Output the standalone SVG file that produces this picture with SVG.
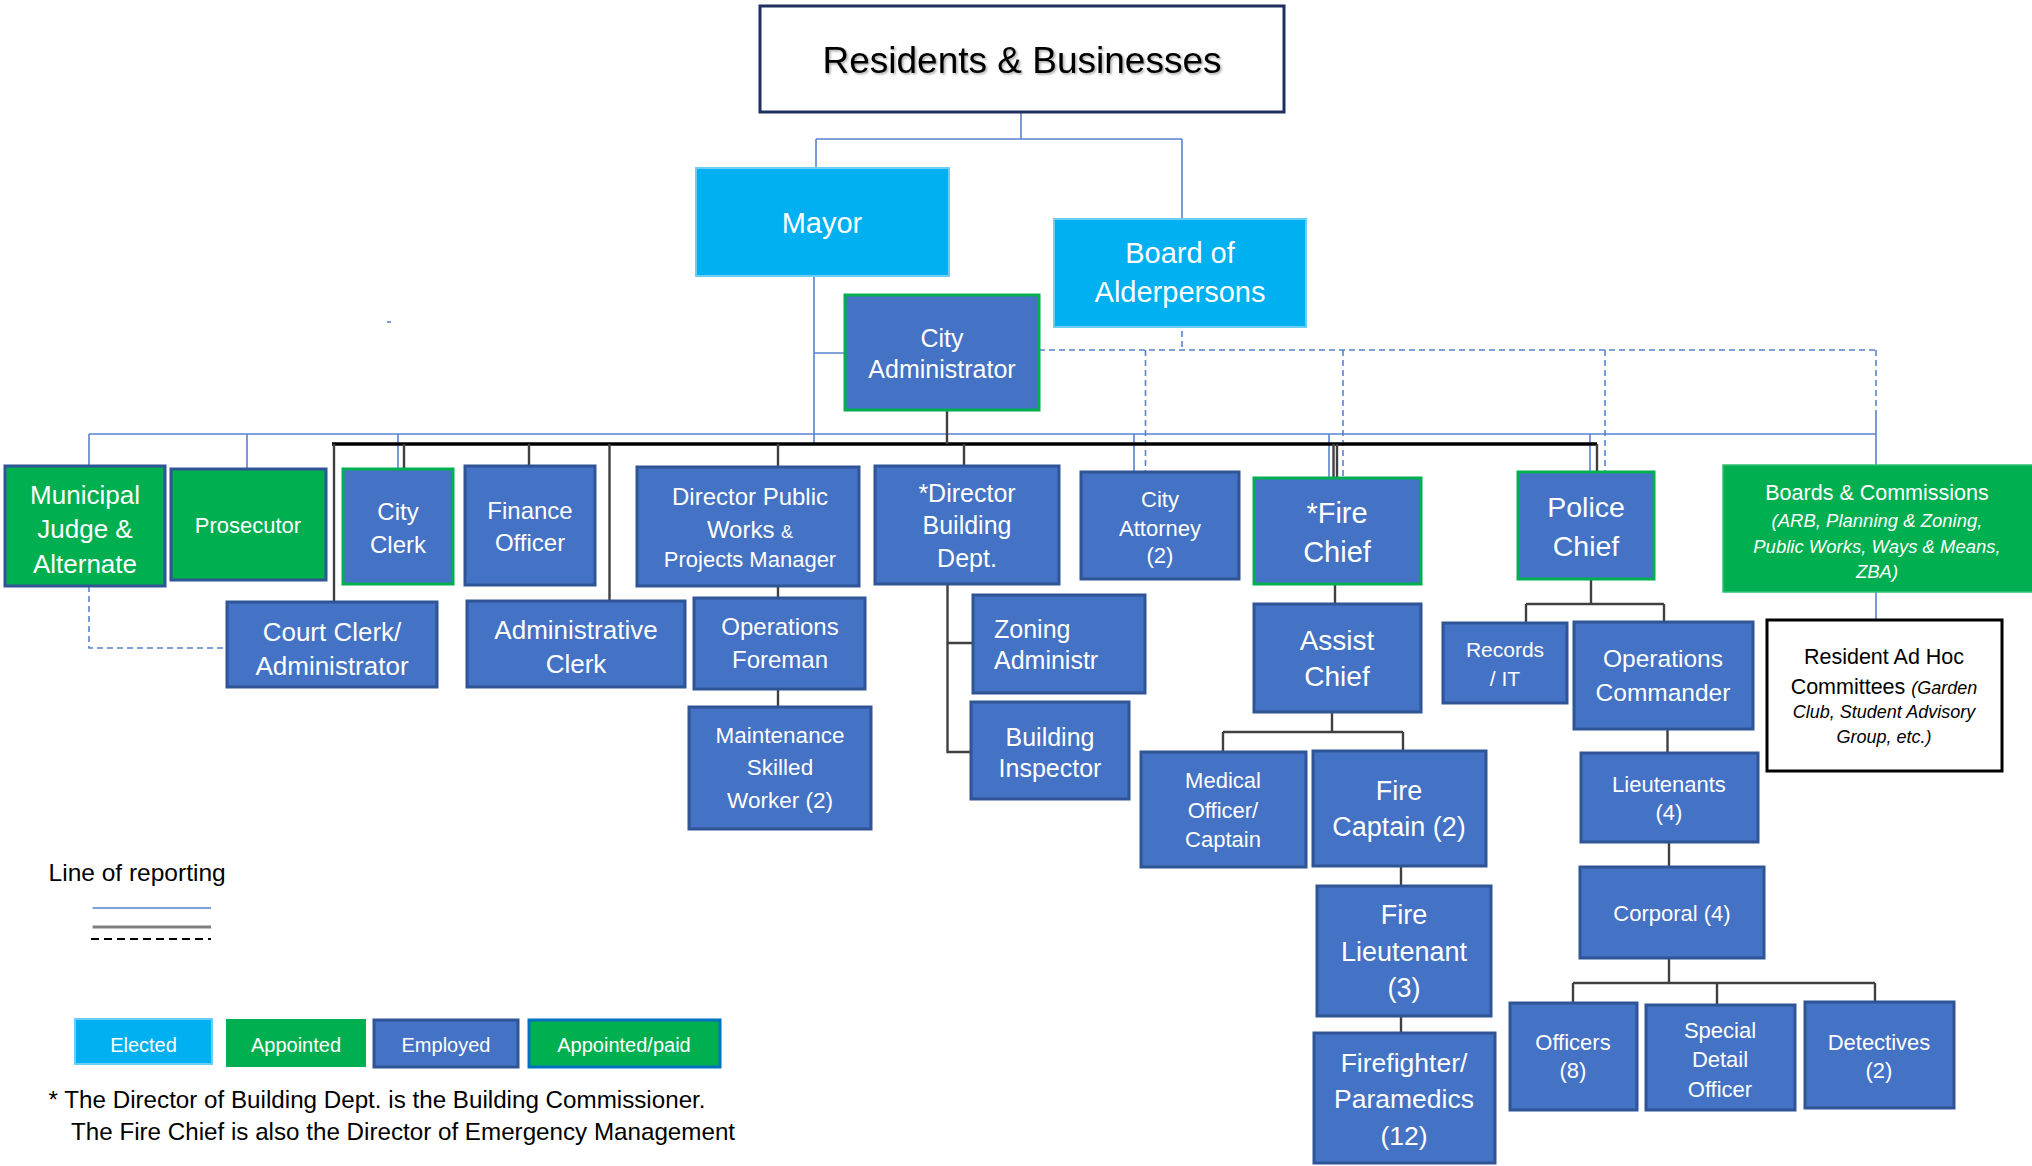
<svg xmlns="http://www.w3.org/2000/svg" width="2032" height="1166" viewBox="0 0 2032 1166">
<style>
.b{fill:#4472C4;stroke:#2F5597;stroke-width:3}
.bg{fill:#4472C4;stroke:#00B050;stroke-width:3}
.g{fill:#00B050;stroke:#2F5597;stroke-width:3}
.c{fill:#00B0F0;stroke:#6CCDF5;stroke-width:2}
.t{font-family:"Liberation Sans",Arial,sans-serif;fill:#fff;text-anchor:middle}
.ts{font-family:"Liberation Sans",Arial,sans-serif;fill:#fff;text-anchor:start}
.k{font-family:"Liberation Sans",Arial,sans-serif;fill:#000}
.i{font-style:italic}
.lb{stroke:#5B82CF;stroke-width:1.6;fill:none}
.ld{stroke:#5B82CF;stroke-width:1.6;stroke-dasharray:6 4;fill:none}
.lk{stroke:#000;stroke-width:3.5;fill:none}
.lg{stroke:#404040;stroke-width:2.4;fill:none}
</style>
<defs>
<filter id="sh" x="-5%" y="-20%" width="110%" height="140%"><feDropShadow dx="1.5" dy="1.5" stdDeviation="1" flood-color="#000" flood-opacity="0.35"/></filter>
</defs>
<rect width="2032" height="1166" fill="#fff"/>

<g id="connectors">
<path class="lb" d="M1021 112V139M816 139H1182M816 139V168M1182 139V219"/>
<path class="lb" d="M814 276V444M814 353H845"/>
<path class="lb" d="M89 434H1876M89 434V466M247 434V469M398 434V469M1134 434V472M1329 434V478M1590 434V472M1876 415V465M1876 592V620"/>
<path class="ld" d="M1182 331V350M1039 350H1876M1145.5 350V472M1343 350V478M1605 350V472M1876 350V415"/>
<path class="ld" d="M89 586V648H227"/>
<path class="lb" d="M387 322H391"/>
<path class="lk" d="M332 444H1597"/>
<path class="lg" d="M947 410V444M334 444V602M404 444V469M529 444V466M609.5 444V601M778 444V467M964 444V466M1597 444V472"/>
<path class="lg" stroke-width="1.6" d="M1333.5 444V478M1337 444V478"/>
<path class="lg" d="M778 586V598M778 689V707"/>
<path class="lg" d="M947.5 584V752H971M947.5 643H973"/>
<path class="lg" d="M1335 584V604M1332 712V732M1223 732H1403M1223 732V752M1403 732V751M1401 866V886M1401 1016V1033"/>
<path class="lg" d="M1591 579V604M1526 604H1664M1526 604V623M1664 604V622M1667.5 729V753M1669 842V867M1669 958V983M1573 983H1875M1573 983V1003M1717 983V1005M1875 983V1002"/>
</g>

<g id="residents">
<rect x="760" y="6" width="524" height="106" fill="#fff" stroke="#1F2F5F" stroke-width="3"/>
<text class="k" x="1022" y="73" font-size="37" text-anchor="middle" filter="url(#sh)">Residents &amp; Businesses</text>
</g>
<g id="mayor">
<rect class="c" x="696" y="168" width="253" height="108"/>
<text class="t" x="822" y="233" font-size="29">Mayor</text>
</g>
<g id="board">
<rect class="c" x="1054" y="219" width="252" height="108"/>
<text class="t" x="1180" y="263" font-size="29">Board of</text>
<text class="t" x="1180" y="302" font-size="29">Alderpersons</text>
</g>
<g id="city-administrator">
<rect class="bg" x="845" y="295" width="194" height="115"/>
<text class="t" x="942" y="347" font-size="25">City</text>
<text class="t" x="942" y="378" font-size="25">Administrator</text>
</g>
<g id="municipal-judge">
<rect class="g" x="5" y="466" width="160" height="120"/>
<text class="t" x="85" y="504" font-size="26">Municipal</text>
<text class="t" x="85" y="538" font-size="26">Judge &amp;</text>
<text class="t" x="85" y="573" font-size="26">Alternate</text>
</g>
<g id="prosecutor">
<rect class="g" x="171" y="469" width="155" height="111"/>
<text class="t" x="248" y="533" font-size="22">Prosecutor</text>
</g>
<g id="city-clerk">
<rect class="bg" x="343" y="469" width="110" height="115"/>
<text class="t" x="398" y="520" font-size="24">City</text>
<text class="t" x="398" y="553" font-size="24">Clerk</text>
</g>
<g id="finance-officer">
<rect class="b" x="465" y="466" width="130" height="119"/>
<text class="t" x="530" y="519" font-size="24">Finance</text>
<text class="t" x="530" y="551" font-size="24">Officer</text>
</g>
<g id="director-public-works">
<rect class="b" x="637" y="467" width="222" height="119"/>
<text class="t" x="750" y="505" font-size="24">Director Public</text>
<text class="t" x="750" y="538" font-size="24">Works <tspan font-size="18">&amp;</tspan></text>
<text class="t" x="750" y="567" font-size="22">Projects Manager</text>
</g>
<g id="director-building">
<rect class="b" x="875" y="466" width="184" height="118"/>
<text class="t" x="967" y="502" font-size="25">*Director</text>
<text class="t" x="967" y="534" font-size="25">Building</text>
<text class="t" x="967" y="567" font-size="25">Dept.</text>
</g>
<g id="city-attorney">
<rect class="b" x="1081" y="472" width="158" height="107"/>
<text class="t" x="1160" y="507" font-size="22">City</text>
<text class="t" x="1160" y="536" font-size="22">Attorney</text>
<text class="t" x="1160" y="563" font-size="22">(2)</text>
</g>
<g id="fire-chief">
<rect class="bg" x="1254" y="478" width="167" height="106"/>
<text class="t" x="1337" y="523" font-size="29">*Fire</text>
<text class="t" x="1337" y="562" font-size="29">Chief</text>
</g>
<g id="police-chief">
<rect class="bg" x="1518" y="472" width="136" height="107"/>
<text class="t" x="1586" y="517" font-size="28.5">Police</text>
<text class="t" x="1586" y="556" font-size="28.5">Chief</text>
</g>
<g id="boards-commissions">
<rect x="1723" y="465" width="312" height="127" fill="#00B050" stroke="#2FC070" stroke-width="1.5"/>
<text class="t" x="1877" y="500" font-size="21.5">Boards &amp; Commissions</text>
<text class="t i" x="1877" y="527" font-size="18.5">(ARB, Planning &amp; Zoning,</text>
<text class="t i" x="1877" y="553" font-size="18.5">Public Works, Ways &amp; Means,</text>
<text class="t i" x="1877" y="578" font-size="18.5">ZBA)</text>
</g>
<g id="court-clerk">
<rect class="b" x="227" y="602" width="210" height="85"/>
<text class="t" x="332" y="641" font-size="26">Court Clerk/</text>
<text class="t" x="332" y="675" font-size="26">Administrator</text>
</g>
<g id="administrative-clerk">
<rect class="b" x="467" y="601" width="218" height="86"/>
<text class="t" x="576" y="639" font-size="26">Administrative</text>
<text class="t" x="576" y="673" font-size="26">Clerk</text>
</g>
<g id="operations-foreman">
<rect class="b" x="694" y="598" width="171" height="91"/>
<text class="t" x="780" y="635" font-size="24">Operations</text>
<text class="t" x="780" y="668" font-size="24">Foreman</text>
</g>
<g id="maintenance-worker">
<rect class="b" x="689" y="707" width="182" height="122"/>
<text class="t" x="780" y="743" font-size="22.5">Maintenance</text>
<text class="t" x="780" y="775" font-size="22.5">Skilled</text>
<text class="t" x="780" y="808" font-size="22.5">Worker (2)</text>
</g>
<g id="zoning-administrator">
<rect class="b" x="973" y="595" width="172" height="98"/>
<text class="ts" x="994" y="638" font-size="25">Zoning</text>
<text class="ts" x="994" y="669" font-size="25">Administr</text>
</g>
<g id="building-inspector">
<rect class="b" x="971" y="702" width="158" height="97"/>
<text class="t" x="1050" y="746" font-size="25">Building</text>
<text class="t" x="1050" y="777" font-size="25">Inspector</text>
</g>
<g id="assist-chief">
<rect class="b" x="1254" y="604" width="167" height="108"/>
<text class="t" x="1337" y="650" font-size="28">Assist</text>
<text class="t" x="1337" y="686" font-size="28">Chief</text>
</g>
<g id="records-it">
<rect class="b" x="1443" y="623" width="124" height="80"/>
<text class="t" x="1505" y="657" font-size="21">Records</text>
<text class="t" x="1505" y="686" font-size="21">/ IT</text>
</g>
<g id="operations-commander">
<rect class="b" x="1574" y="622" width="179" height="107"/>
<text class="t" x="1663" y="667" font-size="24.5">Operations</text>
<text class="t" x="1663" y="701" font-size="24.5">Commander</text>
</g>
<g id="resident-ad-hoc">
<rect x="1767" y="620" width="235" height="151" fill="#fff" stroke="#000" stroke-width="3"/>
<text class="k" x="1884" y="664" font-size="21.5" text-anchor="middle">Resident Ad Hoc</text>
<text class="k" x="1884" y="694" font-size="21.5" text-anchor="middle">Committees <tspan class="i" font-size="18">(Garden</tspan></text>
<text class="k i" x="1884" y="718" font-size="18" text-anchor="middle">Club, Student Advisory</text>
<text class="k i" x="1884" y="743" font-size="18" text-anchor="middle">Group, etc.)</text>
</g>
<g id="medical-officer">
<rect class="b" x="1141" y="752" width="165" height="115"/>
<text class="t" x="1223" y="788" font-size="22">Medical</text>
<text class="t" x="1223" y="818" font-size="22">Officer/</text>
<text class="t" x="1223" y="847" font-size="22">Captain</text>
</g>
<g id="fire-captain">
<rect class="b" x="1313" y="751" width="173" height="115"/>
<text class="t" x="1399" y="800" font-size="27">Fire</text>
<text class="t" x="1399" y="836" font-size="27">Captain (2)</text>
</g>
<g id="lieutenants">
<rect class="b" x="1581" y="753" width="177" height="89"/>
<text class="t" x="1669" y="792" font-size="22">Lieutenants</text>
<text class="t" x="1669" y="820" font-size="22">(4)</text>
</g>
<g id="fire-lieutenant">
<rect class="b" x="1317" y="886" width="174" height="130"/>
<text class="t" x="1404" y="924" font-size="27">Fire</text>
<text class="t" x="1404" y="961" font-size="27">Lieutenant</text>
<text class="t" x="1404" y="997" font-size="27">(3)</text>
</g>
<g id="corporal">
<rect class="b" x="1580" y="867" width="184" height="91"/>
<text class="t" x="1672" y="921" font-size="22">Corporal (4)</text>
</g>
<g id="firefighter-paramedics">
<rect class="b" x="1314" y="1033" width="181" height="130"/>
<text class="t" x="1404" y="1072" font-size="26.5">Firefighter/</text>
<text class="t" x="1404" y="1108" font-size="26.5">Paramedics</text>
<text class="t" x="1404" y="1145" font-size="26.5">(12)</text>
</g>
<g id="officers">
<rect class="b" x="1510" y="1003" width="127" height="107"/>
<text class="t" x="1573" y="1050" font-size="22">Officers</text>
<text class="t" x="1573" y="1078" font-size="22">(8)</text>
</g>
<g id="special-detail">
<rect class="b" x="1646" y="1005" width="149" height="105"/>
<text class="t" x="1720" y="1038" font-size="22">Special</text>
<text class="t" x="1720" y="1067" font-size="22">Detail</text>
<text class="t" x="1720" y="1097" font-size="22">Officer</text>
</g>
<g id="detectives">
<rect class="b" x="1805" y="1002" width="149" height="106"/>
<text class="t" x="1879" y="1050" font-size="22">Detectives</text>
<text class="t" x="1879" y="1078" font-size="22">(2)</text>
</g>

<g id="legend">
<text class="k" x="48.6" y="881" font-size="24.5">Line of reporting</text>
<line x1="92.6" y1="908" x2="211" y2="908" stroke="#7F9FD8" stroke-width="2"/>
<line x1="92.6" y1="927" x2="211" y2="927" stroke="#7F7F7F" stroke-width="3"/>
<line x1="91" y1="939" x2="211" y2="939" stroke="#000" stroke-width="2" stroke-dasharray="8 5"/>
<g id="legend-elected">
<rect class="c" x="75" y="1019" width="137" height="45"/>
<text class="t" x="143.5" y="1052" font-size="20">Elected</text>
</g>
<g id="legend-appointed">
<rect x="226" y="1019" width="140" height="48" fill="#00B050"/>
<text class="t" x="296" y="1052" font-size="20">Appointed</text>
</g>
<g id="legend-employed">
<rect class="b" x="374" y="1020" width="144" height="47"/>
<text class="t" x="446" y="1052" font-size="20">Employed</text>
</g>
<g id="legend-appointed-paid">
<rect x="529" y="1020" width="191" height="47" fill="#00B050" stroke="#0070C0" stroke-width="3"/>
<text class="t" x="624" y="1052" font-size="20">Appointed/paid</text>
</g>
<text class="k" x="48.6" y="1108" font-size="24.2">* The Director of Building Dept. is the Building Commissioner.</text>
<text class="k" x="71" y="1140" font-size="24.2">The Fire Chief is also the Director of Emergency Management</text>
</g>
</svg>
